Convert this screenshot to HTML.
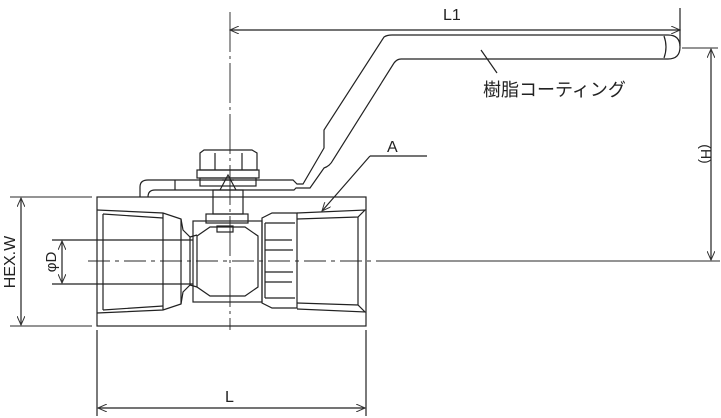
<!DOCTYPE html>
<html><head><meta charset="utf-8"><style>
html,body{margin:0;padding:0;background:#fff;}
svg{display:block;}
text{font-family:"Liberation Sans","Noto Sans CJK JP",sans-serif;fill:#222;}
</style></head><body>
<svg width="721" height="418" viewBox="0 0 721 418" xmlns="http://www.w3.org/2000/svg">
<defs>
<marker id="ar" markerWidth="10" markerHeight="8" refX="9" refY="4" orient="auto-start-reverse" markerUnits="userSpaceOnUse">
<path d="M0,0 L9,4 L0,8" fill="none" stroke="#333" stroke-width="1"/></marker>
</defs>
<g fill="none" stroke="#222" stroke-width="1.2">
<line x1="230" y1="12" x2="230" y2="330" stroke-dasharray="40,4,3,4" stroke-width="0.9"/>
<line x1="88" y1="261" x2="378" y2="261" stroke-dasharray="22,5,4,5" stroke="#555"/>
<line x1="378" y1="261" x2="720" y2="261" stroke="#555"/>
<line x1="230" y1="30" x2="680" y2="30" marker-start="url(#ar)" marker-end="url(#ar)"/>
<line x1="680" y1="8" x2="680" y2="46"/>
<line x1="682" y1="48" x2="718" y2="48" stroke="#555"/>
<line x1="711" y1="49" x2="711" y2="260" marker-start="url(#ar)" marker-end="url(#ar)"/>
<line x1="10" y1="197" x2="92" y2="197" stroke="#555"/>
<line x1="10" y1="326" x2="92" y2="326" stroke="#555"/>
<line x1="21" y1="198" x2="21" y2="325" marker-start="url(#ar)" marker-end="url(#ar)"/>
<line x1="52" y1="240" x2="193" y2="240"/>
<line x1="52" y1="284" x2="193" y2="284"/>
<line x1="62" y1="241" x2="62" y2="283" marker-start="url(#ar)" marker-end="url(#ar)"/>
<line x1="97" y1="330" x2="97" y2="416"/>
<line x1="366" y1="330" x2="366" y2="416"/>
<line x1="98" y1="408" x2="365" y2="408" marker-start="url(#ar)" marker-end="url(#ar)"/>
<rect x="97" y="197" width="269" height="129"/>
<path d="M97,210 L163,213 L181,219 L183,230 L190,237 L190,285 L183,292 L181,304 L163,310 L97,313"/>
<path d="M103,214 L163,218 M103,310 L163,306"/>
<line x1="103" y1="214" x2="103" y2="310"/>
<line x1="163" y1="213" x2="163" y2="310"/>
<line x1="181" y1="219" x2="181" y2="304"/>
<line x1="190" y1="237" x2="197" y2="235"/>
<line x1="190" y1="285" x2="197" y2="287"/>
<rect x="193" y="221" width="69" height="81"/>
<path d="M197,236 L210,227 L245,227 L258,236 L258,287 L245,296 L210,296 L197,287 Z"/>
<rect x="217" y="226" width="16" height="6"/>
<rect x="206" y="214" width="42" height="9"/>
<rect x="213" y="190" width="30" height="24"/>
<rect x="200" y="178" width="56" height="8"/>
<rect x="197" y="170" width="62" height="8"/>
<path d="M200,153 L204,150 L252,150 L257,153 L257,170 L200,170 Z"/>
<line x1="215" y1="153" x2="215" y2="170"/>
<line x1="242" y1="153" x2="242" y2="170"/>
<path d="M220,190 L228,175 L236,190 M222,180 L234,180"/>
<path d="M262,218 L272,213 L297,213 L297,308 L272,308 L262,303 Z"/>
<path d="M265,223 L295,223 M265,240 L292,240 M265,282 L292,282 M265,298 L295,298"/>
<path d="M265,250 L293,250 M265,272 L293,272"/>
<line x1="265" y1="223" x2="265" y2="298"/>
<path d="M297,213 L365,210 L358,217 L297,219 M297,309 L365,312 L358,305 L297,303"/>
<line x1="358" y1="217" x2="358" y2="305"/>
<path d="M140,197 L140,187 Q140,180 148,180 L293,180 L297,184 L303,184 L324,148 L324,130 L384,37 Q387,35 392,35 L668,35 Q680,35 680,47 Q680,59 668,59 L401,59 Q397,59 394,63 L333,160 Q330,166 324,168 L310,188 L296,188 L294,190 L155,190 Q148,190 148,197"/>
<path d="M664,36 Q668,47 664,58"/>
<path d="M175,180 L175,190"/>
<line x1="370" y1="156" x2="427" y2="156"/>
<line x1="370" y1="156" x2="322" y2="211" marker-end="url(#ar)"/>
<line x1="481" y1="50" x2="497" y2="73"/>
</g>
<text x="387" y="152" font-size="16">A</text>
<text x="483" y="96" font-size="18">樹脂コーティング</text>
<text x="443" y="20" font-size="16">L1</text>
<text x="225" y="402" font-size="16">L</text>
<text transform="translate(15,262) rotate(-90)" font-size="16" text-anchor="middle">HEX.W</text>
<text transform="translate(56,262) rotate(-90)" font-size="15" text-anchor="middle">φD</text>
<text transform="translate(701,154) rotate(90)" font-size="14" text-anchor="middle">(H)</text>
</svg>
</body></html>
